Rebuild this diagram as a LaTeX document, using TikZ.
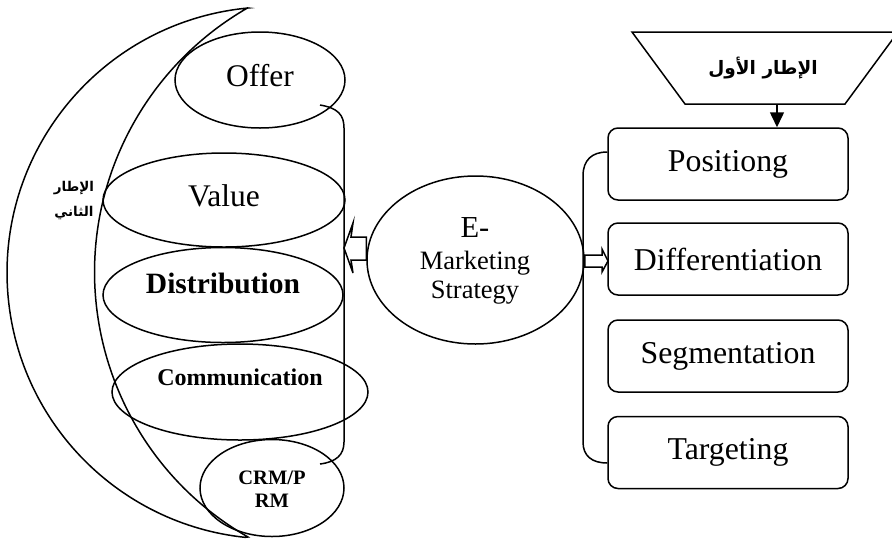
\documentclass[tikz,border=0pt]{standalone}
\usepackage{fontspec}
\setmainfont{Liberation Serif}
\newfontfamily\arabicfont[Script=Arabic]{DejaVu Sans}
\TeXXeTstate=1
\usetikzlibrary{shapes.geometric,arrows.meta}
\begin{document}
\begin{tikzpicture}[x=1pt,y=-1pt,line width=1.5pt,
  oval/.style={draw,ellipse,inner sep=0pt},
  boxnode/.style={draw,rounded corners=10pt,minimum width=240pt,minimum height=72pt,inner sep=0pt,font=\fontsize{31.8}{35}\selectfont},
  lbl/.style={inner sep=0pt,align=center},
  hollow/.style={draw,fill=white,line join=miter},
  arlbl/.style={inner sep=0pt,font=\arabicfont\bfseries}]
\useasboundingbox (0,0) rectangle (892,542);
\clip (0,0) rectangle (892,542);

% crescent (second frame)
\draw (248,8) arc[start angle=264.6,end angle=96,radius=266]
  -- (248,537) arc[start angle=119.8,end angle=240.1,radius=305] -- cycle;
\node[arlbl,font=\arabicfont\bfseries\fontsize{13.5}{15}\selectfont] (fr2a) at (74,188) {\beginR الإطار\endR};
\node[arlbl,font=\arabicfont\bfseries\fontsize{13.5}{15}\selectfont] (fr2b) at (74,213) {\beginR الثاني\endR};

% left ellipses
\node[oval,minimum width=170pt,minimum height=96pt] (offer) at (260,80) {};
\node[oval,minimum width=242pt,minimum height=94pt] (value) at (224,200) {};
\node[oval,minimum width=240pt,minimum height=95pt] (distr) at (223,295) {};
\node[oval,minimum width=256pt,minimum height=96pt] (comm) at (240,392) {};
\node[oval,minimum width=144pt,minimum height=97pt] (crm) at (272,488) {};

\node[lbl,font=\fontsize{31.5}{34}\selectfont] (toffer) at (260,76) {Offer};
\node[lbl,font=\fontsize{31.5}{34}\selectfont] (tvalue) at (224,196) {Value};
\node[lbl,font=\bfseries\fontsize{29.5}{32}\selectfont] (tdistr) at (223,283) {Distribution};
\node[lbl,font=\bfseries\fontsize{24}{26}\selectfont] (tcomm) at (240,377) {Communication};
\node[lbl,font=\bfseries\fontsize{20.5}{23}\selectfont] (tcrm) at (272,489) {CRM/P\\RM};

% left bracket
\coordinate (lb1) at (320,105);
\coordinate (lb2) at (320,464);
\draw (lb1) .. controls (338,108) and (344,115) .. (344,128) -- (344,442)
  .. controls (344,455) and (336,462) .. (lb2);

% central ellipse
\node[oval,minimum width=217pt,minimum height=168pt] (emk) at (475.5,260) {};
\node[lbl,font=\fontsize{30.5}{34}\selectfont] (te) at (475,228) {E-};
\node[lbl,font=\fontsize{26.5}{30}\selectfont] (tm) at (475,263) {Marketing};
\node[lbl,font=\fontsize{26.5}{30}\selectfont] (ts) at (475,293) {Strategy};

% hollow arrows
\draw[hollow] (emk.west |- 0,237) -- (351,237) -- (353,223) -- (344,248) -- (353,273) -- (351,260) -- (emk.west |- 0,260) -- cycle;
\draw[hollow] (emk.east |- 0,255) -- (602,255) -- (602,249) -- (608,261) -- (602,272) -- (602,267) -- (emk.east |- 0,267) -- cycle;

% right boxes
\node[boxnode] (pos) at (728,164) {Positiong};
\node[boxnode] (dif) at (728,259) {Differentiation};
\node[boxnode] (seg) at (728,356) {Segmentation};
\node[boxnode] (tar) at (728,452.5) {Targeting};

% right bracket
\draw (pos.west |- 0,152) .. controls (592,152) and (583,160) .. (583,176) -- (583,442)
  .. controls (583,456) and (592,463) .. (tar.west |- 0,463);

% first frame (trapezoid)
\draw (632,32) -- (898,32) -- (845,104) -- (685,104) -- cycle;
\node[arlbl,font=\arabicfont\bfseries\fontsize{18.5}{21}\selectfont] (fr1) at (763,68) {\beginR الإطار الأول\endR};
\coordinate (trapbot) at (777,104);
\draw[-{Triangle[width=14pt,length=15pt]}] (trapbot) -- (trapbot |- pos.north);
\end{tikzpicture}
\end{document}
